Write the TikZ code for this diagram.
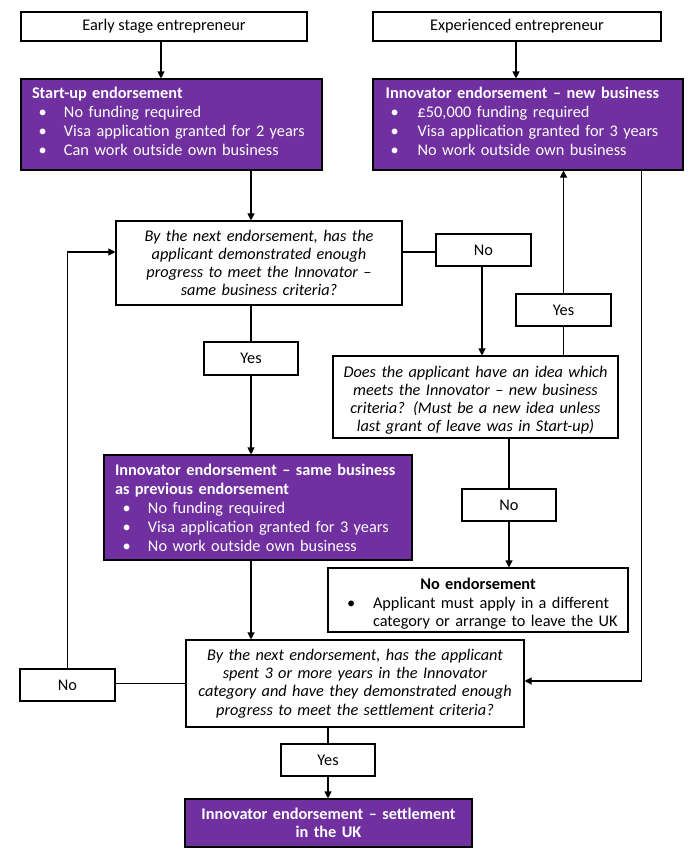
\documentclass[tikz,border=0pt]{standalone}
\usepackage{fontspec}
\setmainfont{Carlito}
\usetikzlibrary{arrows.meta}
\definecolor{purp}{RGB}{112,48,160}
\newcommand\bline[3]{\makebox[#2pt][l]{\hspace*{#1pt}\textbullet}#3}
\newcommand\tline[2]{\hspace*{#1pt}\textbf{#2}}
\newcommand\lowstrut[1]{\rule[-#1pt]{0pt}{#1pt}}
\newcommand\highstrut[1]{\rule{0pt}{#1pt}}
\begin{document}
\begin{tikzpicture}[x=1pt,y=-1pt,
  base/.style={draw, line width=1.1pt, inner sep=0pt, font=\fontsize{16.3}{18.4}\selectfont},
  plainbox/.style={base, fill=white, align=center},
  qbox/.style={base, fill=white, align=center, font=\fontsize{16.3}{18.2}\selectfont\itshape},
  purpbox/.style={base, fill=purp, text=white, align=left, font=\fontsize{16.3}{19}\selectfont},
  arr/.style={line width=1.1pt, -{Triangle[length=7pt,width=7pt]}},
  ln/.style={line width=1.1pt}]
\useasboundingbox (0,0) rectangle (694,862);

\node[plainbox, minimum width=286, minimum height=29] (early) at (164,26.5) {\raisebox{-1.5pt}{Early stage entrepreneur}};
\node[plainbox, minimum width=288, minimum height=29] (exper) at (517,26.5) {\raisebox{-1.5pt}{Experienced entrepreneur}};

\node[purpbox, minimum width=301, minimum height=91, text width=301] (startup) at (171.5,124.5)
  {\tline{11}{Start-up endorsement}\\
   \bline{17.5}{43}{No funding required}\\
   \bline{17.5}{43}{Visa application granted for 2 years}\\
   \bline{17.5}{43}{Can work outside own business}\lowstrut{6}};

\node[purpbox, minimum width=310, minimum height=91, text width=310] (innew) at (528,124.5)
  {\tline{12.7}{Innovator endorsement – new business}\\
   \bline{17.5}{44.7}{£50,000 funding required}\\
   \bline{17.5}{44.7}{Visa application granted for 3 years}\\
   \bline{17.5}{44.7}{No work outside own business}\lowstrut{6}};

\node[qbox, minimum width=286, minimum height=84, text width=282] (q1) at (259,263)
  {By the next endorsement, has the\\applicant demonstrated enough\\progress to meet the Innovator –\\same business criteria?};

\node[plainbox, minimum width=95, minimum height=32] (no1) at (483.5,250) {No};
\node[plainbox, minimum width=95, minimum height=32] (yes1) at (563.5,310) {Yes};
\node[plainbox, minimum width=94, minimum height=33] (yes2) at (251,358.5) {Yes};

\node[qbox, minimum width=285, minimum height=82, text width=281] (q2) at (475.5,397)
  {\highstrut{18}Does the applicant have an idea which\\meets the Innovator – new business\\criteria? (Must be a new idea unless\\last grant of leave was in Start-up)};

\node[purpbox, minimum width=308, minimum height=105, text width=308] (insame) at (258,507.5)
  {\tline{11}{Innovator endorsement – same business}\\
   \tline{11}{as previous endorsement}\\
   \bline{18.5}{44}{No funding required}\\
   \bline{18.5}{44}{Visa application granted for 3 years}\\
   \bline{18.5}{44}{No work outside own business}};

\node[plainbox, minimum width=94, minimum height=32] (no2) at (509,505) {No};

\node[base, fill=white, align=left, minimum width=300, minimum height=64, text width=300,
  font=\fontsize{16.3}{18.5}\selectfont] (noend) at (478,600)
  {\highstrut{19}\makebox[300pt]{\textbf{No endorsement}}\\
   \bline{19}{45}{Applicant must apply in a different}\\
   \hspace*{45pt}category or arrange to leave the UK};

\node[qbox, minimum width=338, minimum height=87, text width=334] (q3) at (355,683.5)
  {By the next endorsement, has the applicant\\spent 3 or more years in the Innovator\\category and have they demonstrated enough\\progress to meet the settlement criteria?};

\node[plainbox, minimum width=95, minimum height=32] (no3) at (67.5,685) {No};
\node[plainbox, minimum width=94, minimum height=32] (yes3) at (328,760) {Yes};

\node[base, fill=purp, text=white, align=center, minimum width=287, minimum height=48, text width=283,
  font=\fontsize{16.3}{18}\selectfont\bfseries] (final) at (328.5,823)
  {Innovator endorsement – settlement\\in the UK};

% connectors
\draw[arr] ([xshift=-3pt]early.south) -- ([xshift=-3pt]early.south |- startup.north);
\draw[arr] ([xshift=-1pt]exper.south) -- ([xshift=-1pt]exper.south |- innew.north);
\draw[arr] (startup.south -| yes2.north) -- (q1.north -| yes2.north);
\draw[ln] (q1.south -| yes2.north) -- (yes2.north);
\draw[arr] (yes2.south) -- (insame.north -| yes2.south);
\draw[arr] (insame.south -| yes2.south) -- (q3.north -| yes2.south);
\draw[ln] ([yshift=11pt]q1.east) -- ([yshift=11pt]q1.east -| no1.west);
\draw[arr] ([xshift=-1.5pt]no1.south) -- ([xshift=-1.5pt]no1.south |- q2.north);
\draw[ln] (q2.north -| yes1.south) -- (yes1.south);
\draw[arr] (yes1.north) -- (yes1.north |- innew.south);
\draw[ln] (q2.south -| no2.north) -- (no2.north);
\draw[arr] (no2.south) -- (no2.south |- noend.north);
\draw[ln] (q3.west) -- (q3.west -| no3.east);
\draw[arr] (no3.north) |- ([yshift=11pt]q1.west);
\draw[arr] ([xshift=113.7pt]innew.south) |- ([yshift=2.5pt]q3.east);
\draw[ln] (q3.south -| yes3.north) -- (yes3.north);
\draw[arr] (yes3.south) -- (yes3.south |- final.north);
\end{tikzpicture}
\end{document}
